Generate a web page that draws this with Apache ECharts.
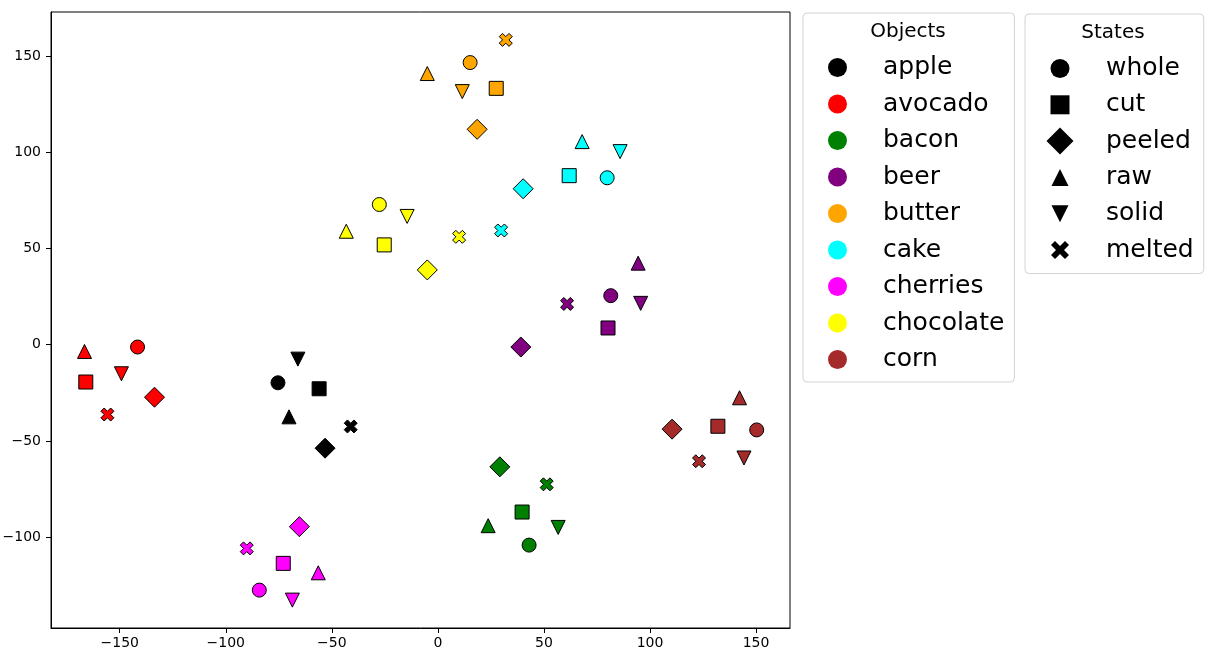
<!DOCTYPE html>
<html>
<head>
<meta charset="utf-8">
<script src="https://cdn.jsdelivr.net/npm/echarts@6/dist/echarts.min.js"></script>
<style>
  html, body { margin: 0; padding: 0; background: #fff; }
  #chart { width: 1217px; height: 664px; }
</style>
</head>
<body>
<div id="chart"></div>
<script>
// objects and their colours
var objects = ['apple', 'avocado', 'bacon', 'beer', 'butter', 'cake', 'cherries', 'chocolate', 'corn'];
var objectColors = ['#000000', '#ff0000', '#008000', '#800080', '#ffa500', '#00ffff', '#ff00ff', '#ffff00', '#a52a2a'];

// states, in the order of each point list below
var states = ['whole', 'cut', 'peeled', 'raw', 'solid', 'melted'];

// [x, y] per state: whole, cut, peeled, raw, solid, melted
var apple     = [[-75.4, -19.8], [-56.0, -22.9], [-53.2, -53.8], [-70.2, -37.5], [-66.0, -7.5], [-41.1, -42.5]];
var avocado   = [[-141.6, -1.2], [-166.0, -19.4], [-133.6, -27.3], [-166.6, -3.5], [-149.2, -15.1], [-155.8, -36.3]];
var bacon     = [[43.0, -104.2], [39.7, -87.0], [29.2, -63.5], [23.7, -94.1], [56.7, -95.0], [51.3, -72.6]];
var beer      = [[81.5, 25.5], [80.2, 8.7], [39.1, -1.2], [94.4, 42.4], [95.6, 21.5], [60.9, 21.2]];
var butter    = [[15.2, 146.7], [27.5, 133.3], [18.5, 112.0], [-5.0, 141.0], [11.5, 131.6], [32.0, 158.5]];
var cake      = [[79.8, 86.8], [61.9, 87.9], [40.2, 81.1], [68.0, 105.6], [85.9, 100.4], [29.8, 59.4]];
var cherries  = [[-84.2, -127.6], [-72.9, -113.7], [-65.3, -94.6], [-56.4, -118.6], [-68.6, -132.8], [-90.1, -105.9]];
var chocolate = [[-27.6, 72.9], [-25.3, 51.9], [-5.0, 38.9], [-43.2, 59.0], [-14.5, 66.7], [10.0, 56.1]];
var corn      = [[150.3, -44.3], [132.0, -42.4], [110.4, -43.9], [142.2, -27.6], [144.3, -58.9], [123.1, -60.6]];
var points = [apple, avocado, bacon, beer, butter, cake, cherries, chocolate, corn];

var xTicks = [-150, -100, -50, 0, 50, 100, 150];
var yTicks = [-100, -50, 0, 50, 100, 150];

// marker shapes
var downTri = 'path://M0,0L2,0L1,2Z';
var xMark = 'path://M3,0L4,1L3,2L4,3L3,4L2,3L1,4L0,3L1,2L0,1L1,0L2,1Z';
var stateSymbols = ['circle', 'rect', 'diamond', 'triangle', downTri, xMark];
var stateSizes = [14, 14, 20, 14, 14, 13];

// legend icons inside a 28x28 box (moveTo points keep the box)
var pad = 'M0,0M28,28';
var stateIcons = [
  'path://' + pad + 'M4.5,14a9.5,9.5 0 1,0 19,0a9.5,9.5 0 1,0 -19,0Z',
  'path://' + pad + 'M4.5,4.5L23.5,4.5L23.5,23.5L4.5,23.5Z',
  'path://' + pad + 'M14,0.5L27.5,14L14,27.5L0.5,14Z',
  'path://' + pad + 'M14,5.5L22.5,22.5L5.5,22.5Z',
  'path://' + pad + 'M5.5,5.5L22.5,5.5L14,22.5Z',
  'path://' + pad + 'M19,5L23,9L18,14L23,19L19,23L14,18L9,23L5,19L10,14L5,9L9,5L14,10Z'
];

function minus(v) { return String(v).replace('-', '\u2212'); }

var font = 'DejaVu Sans';
var series = [];
objects.forEach(function (name, i) {
  series.push({
    name: name,
    type: 'scatter',
    itemStyle: { color: objectColors[i], borderColor: '#000', borderWidth: 1, opacity: 1 },
    emphasis: { disabled: true },
    data: points[i].map(function (p, j) {
      return { value: p, symbol: stateSymbols[j], symbolSize: stateSizes[j] };
    })
  });
});
// empty series only for the states legend
states.forEach(function (name) {
  series.push({
    name: name,
    type: 'scatter',
    symbol: 'circle',
    itemStyle: { color: '#000', borderWidth: 0 },
    data: []
  });
});

var chart = echarts.init(document.getElementById('chart'));
chart.setOption({
  animation: false,
  backgroundColor: '#fff',
  grid: {
    left: 51, right: 427, top: 12, bottom: 36,
    show: true, borderColor: '#000', borderWidth: 1,
    outerBoundsMode: 'none'
  },
  xAxis: {
    type: 'value', min: -182.4, max: 166,
    splitLine: { show: false },
    axisLine: { show: true, onZero: false, lineStyle: { color: '#000', width: 1 } },
    axisTick: { show: true, length: 5, customValues: xTicks, lineStyle: { color: '#000' } },
    axisLabel: { customValues: xTicks, formatter: minus, color: '#000', fontSize: 14, fontFamily: font, margin: 8 }
  },
  yAxis: {
    type: 'value', min: -147.3, max: 173,
    splitLine: { show: false },
    axisLine: { show: true, onZero: false, lineStyle: { color: '#000', width: 1 } },
    axisTick: { show: true, length: 5, customValues: yTicks, lineStyle: { color: '#000' } },
    axisLabel: { customValues: yTicks, formatter: minus, color: '#000', fontSize: 14, fontFamily: font, margin: 10 }
  },
  legend: [{
    orient: 'vertical',
    left: 803, top: 13,
    padding: [41.5, 10, 9.5, 25],
    itemWidth: 19, itemHeight: 26, itemGap: 10.5,
    borderColor: '#d3d3d3', borderWidth: 1, borderRadius: 4,
    selectedMode: false,
    textStyle: { fontSize: 25, fontFamily: font, color: '#000', lineHeight: 26, padding: [0, 0, 0, 31] },
    data: objects.map(function (name) {
      return { name: name, icon: 'circle', itemStyle: { borderWidth: 0 } };
    })
  }, {
    orient: 'vertical',
    left: 1025, top: 14,
    padding: [40.5, 10, 9.5, 21],
    itemWidth: 28, itemHeight: 28, itemGap: 8.3,
    borderColor: '#d3d3d3', borderWidth: 1, borderRadius: 4,
    selectedMode: false,
    textStyle: { fontSize: 25, fontFamily: font, color: '#000', lineHeight: 26, padding: [0, 0, 0, 27] },
    data: states.map(function (name, j) {
      return { name: name, icon: stateIcons[j], itemStyle: { color: '#000', borderWidth: 0, opacity: 1 } };
    })
  }],
  graphic: [
    { type: 'text', x: 908, y: 32, z: 100,
      style: { text: 'Objects', fontSize: 20, fontFamily: font, fill: '#000', textAlign: 'center', textVerticalAlign: 'middle' } },
    { type: 'text', x: 1113, y: 33, z: 100,
      style: { text: 'States', fontSize: 20, fontFamily: font, fill: '#000', textAlign: 'center', textVerticalAlign: 'middle' } }
  ],
  series: series
});
</script>
</body>
</html>
